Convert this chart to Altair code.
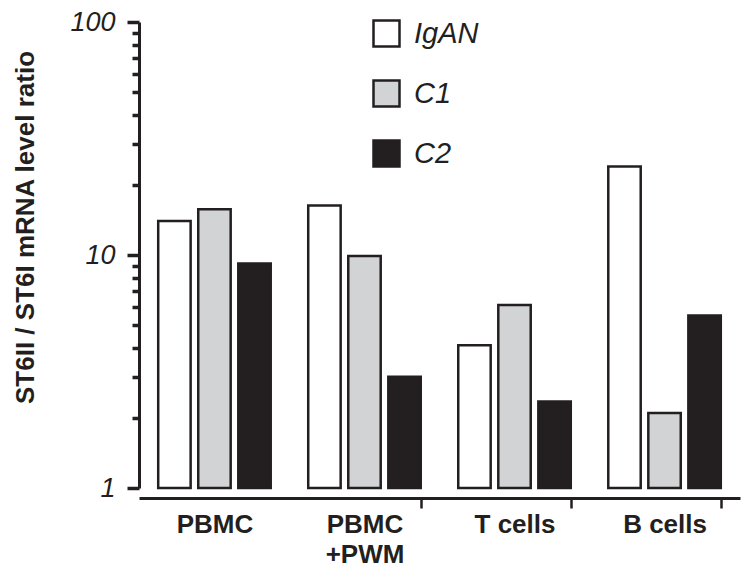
import altair as alt
import pandas as pd

groups = ["PBMC", "PBMC|+PWM", "T cells", "B cells"]
series = ["IgAN", "C1", "C2"]
igan = [14.0, 16.3, 4.1, 24.0]
c1 = [15.7, 9.9, 6.1, 2.1]
c2 = [9.2, 3.0, 2.35, 5.5]
colors = ["#ffffff", "#d1d3d4", "#231f20"]
major_ticks = [1, 10, 100]
minor_ticks = [2, 3, 4, 5, 6, 7, 8, 9, 20, 30, 40, 50, 60, 70, 80, 90]
y_base = 1
y_title = "ST6II / ST6I mRNA level ratio"

rows = []
for name, vals in zip(series, [igan, c1, c2]):
    for g, v in zip(groups, vals):
        rows.append({"group": g, "series": name, "value": v})
df = pd.DataFrame(rows)

ink = "#231f20"
yscale = alt.Scale(type="log", domain=[1, 100], nice=False)

bars = alt.Chart(df).mark_bar(stroke=ink, strokeWidth=2.5, opacity=1).encode(
    x=alt.X(
        "group:N", sort=groups,
        scale=alt.Scale(paddingInner=0.25, paddingOuter=0.128),
        axis=alt.Axis(
            title=None, labelAngle=0, labelFont="Liberation Sans", labelFontWeight="bold",
            labelFontSize=26, labelColor=ink, labelExpr="split(datum.label, '|')",
            labelLineHeight=30, labelPadding=3, tickBand="extent", tickSize=10,
            tickWidth=2.5, tickColor=ink, domainWidth=3, domainColor=ink, offset=10,
            tickOpacity={"condition": {"test": "datum.index <= 0", "value": 0}, "value": 1},
        ),
    ),
    xOffset=alt.XOffset("series:N", sort=series,
                        scale=alt.Scale(paddingInner=0.19, paddingOuter=0)),
    y=alt.Y(
        "value:Q", scale=yscale,
        axis=alt.Axis(
            orient="left", title=y_title, values=major_ticks, format="d",
            labelFont="Liberation Sans", labelFontStyle="italic", labelFontSize=27,
            labelColor=ink, labelPadding=12, tickSize=12, ticks=True,
            tickWidth=3.5, tickColor=ink, domainWidth=3, domainColor=ink,
            titleFont="Liberation Sans", titleFontWeight="bold", titleFontSize=26,
            titleColor=ink, titleAngle=-90, titleX=-106, titleY=205,
            titleAlign="center", titleBaseline="alphabetic", grid=False,
        ),
    ),
    y2=alt.datum(y_base),
    fill=alt.Fill(
        "series:N", sort=series,
        scale=alt.Scale(domain=series, range=colors),
        legend=alt.Legend(
            title=None, orient="none", legendX=233, legendY=-3, symbolType="square",
            symbolSize=676, symbolStrokeColor=ink, symbolStrokeWidth=2.5,
            symbolOpacity=1, labelFont="Liberation Sans", labelFontStyle="italic",
            labelFontSize=29, labelColor=ink, labelOffset=13, rowPadding=23, padding=0,
        ),
    ),
)

minor = alt.Chart(df).mark_point(opacity=0).encode(
    y=alt.Y(
        "value:Q", scale=yscale,
        axis=alt.Axis(
            orient="left", title=None, values=minor_ticks, labels=False, domain=False,
            tickSize=7, ticks=True, tickWidth=3.5, tickColor=ink, grid=False,
        ),
    ),
)

chart = alt.layer(bars, minor).resolve_scale(y="shared").resolve_axis(
    y="independent"
).properties(
    width=601, height=466,
    autosize=alt.AutoSizeParams(type="none"),
    padding={"left": 131, "top": 14, "right": 2, "bottom": 86},
).configure_view(stroke=None)

chart.save("out.html", embed_options={"renderer": "svg", "actions": False})
